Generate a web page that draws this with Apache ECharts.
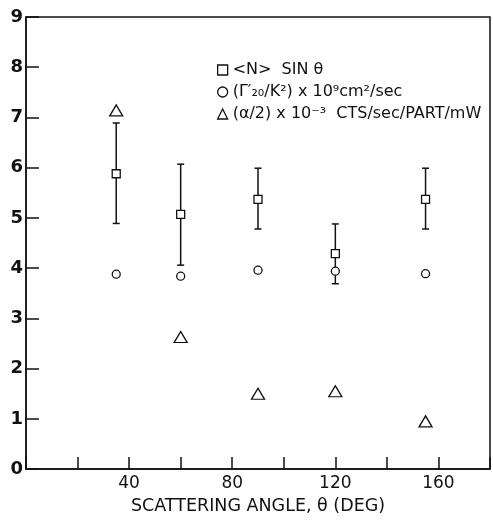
<!DOCTYPE html>
<html>
<head>
<meta charset="utf-8">
<script src="https://cdn.jsdelivr.net/npm/echarts@6/dist/echarts.min.js"></script>
<style>
  html, body { margin: 0; padding: 0; background: #fff; }
  #chart { width: 493px; height: 520px; }
</style>
</head>
<body>
<div id="chart"></div>
<script>
// scattering angles (deg)
var angles = [35, 60, 90, 120, 155];
// <N> sin theta, with error bar ends
var nSin = [5.88, 5.07, 5.37, 4.29, 5.37];
var nSinLow = [4.89, 4.06, 4.78, 3.69, 4.78];
var nSinHigh = [6.89, 6.07, 5.99, 4.88, 5.99];
// (Gamma'20/K^2) x 10^9 cm^2/sec
var gammaK = [3.88, 3.84, 3.96, 3.94, 3.89];
// (alpha/2) x 10^-3 CTS/sec/PART/mW
var alphaHalf = [7.14, 2.63, 1.5, 1.55, 0.95];

var legendNames = [
  '<N>  SIN \u03b8',
  '(\u0393\u2032\u2082\u2080/K\u00b2) x 10\u2079cm\u00b2/sec',
  '(\u03b1/2) x 10\u207b\u00b3  CTS/sec/PART/mW'
];

function pairs(ys) {
  return angles.map(function (x, i) { return [x, ys[i]]; });
}

var ink = '#111';
var chart = echarts.init(document.getElementById('chart'));

chart.setOption({
  backgroundColor: '#fff',
  animation: false,
  grid: {
    left: 26, right: 1, top: 17, bottom: 44,
    show: true, borderColor: ink, borderWidth: 1.5, backgroundColor: 'transparent'
  },
  legend: {
    orient: 'vertical',
    left: 212, top: 57,
    itemWidth: 10, itemHeight: 10, itemGap: 6,
    itemStyle: { color: '#fff', borderColor: ink, borderWidth: 1.3 },
    textStyle: { fontFamily: 'DejaVu Sans', fontSize: 16, color: ink },
    data: [
      { name: legendNames[0], icon: 'rect' },
      { name: legendNames[1], icon: 'circle' },
      { name: legendNames[2], icon: 'triangle' }
    ]
  },
  xAxis: {
    type: 'value', min: 0, max: 180, interval: 20,
    name: 'SCATTERING ANGLE, \u03b8 (DEG)',
    nameLocation: 'middle', nameGap: 26,
    nameTextStyle: { fontFamily: 'DejaVu Sans', fontSize: 17.5, color: ink },
    axisLine: { lineStyle: { color: ink, width: 1.5 } },
    axisTick: { inside: true, length: 12, lineStyle: { color: ink, width: 1.5 } },
    axisLabel: {
      margin: 6, fontFamily: 'DejaVu Sans', fontSize: 17, color: ink,
      formatter: function (v) { return (v > 0 && v % 40 === 0 && v < 180) ? String(v) : ''; }
    },
    splitLine: { show: false }
  },
  yAxis: {
    type: 'value', min: 0, max: 9, interval: 1,
    axisLine: { lineStyle: { color: ink, width: 1.5 } },
    axisTick: { inside: true, length: 13, lineStyle: { color: ink, width: 1.5 } },
    axisLabel: { margin: 3, fontFamily: 'DejaVu Sans', fontSize: 18, fontWeight: 'bold', color: ink },
    splitLine: { show: false }
  },
  series: [
    {
      // error bars for <N> sin theta
      type: 'custom',
      data: angles.map(function (x, i) { return [x, nSinLow[i], nSinHigh[i]]; }),
      encode: { x: 0, y: [1, 2] },
      z: 1,
      renderItem: function (params, api) {
        var lo = api.coord([api.value(0), api.value(1)]);
        var hi = api.coord([api.value(0), api.value(2)]);
        var cap = 3.5;
        var st = { stroke: ink, lineWidth: 1.5 };
        return {
          type: 'group',
          children: [
            { type: 'line', shape: { x1: lo[0], y1: lo[1], x2: hi[0], y2: hi[1] }, style: st },
            { type: 'line', shape: { x1: lo[0] - cap, y1: lo[1], x2: lo[0] + cap, y2: lo[1] }, style: st },
            { type: 'line', shape: { x1: hi[0] - cap, y1: hi[1], x2: hi[0] + cap, y2: hi[1] }, style: st }
          ]
        };
      }
    },
    {
      name: legendNames[0],
      type: 'scatter', symbol: 'rect', symbolSize: 8, z: 3,
      itemStyle: { color: '#fff', borderColor: ink, borderWidth: 1.3, opacity: 1 },
      data: pairs(nSin)
    },
    {
      name: legendNames[1],
      type: 'scatter', symbol: 'circle', symbolSize: 8, z: 3,
      itemStyle: { color: '#fff', borderColor: ink, borderWidth: 1.3, opacity: 1 },
      data: pairs(gammaK)
    },
    {
      name: legendNames[2],
      type: 'scatter', symbol: 'triangle', symbolSize: [13, 11], z: 3,
      itemStyle: { color: '#fff', borderColor: ink, borderWidth: 1.3, opacity: 1 },
      data: pairs(alphaHalf)
    }
  ]
});
</script>
</body>
</html>
